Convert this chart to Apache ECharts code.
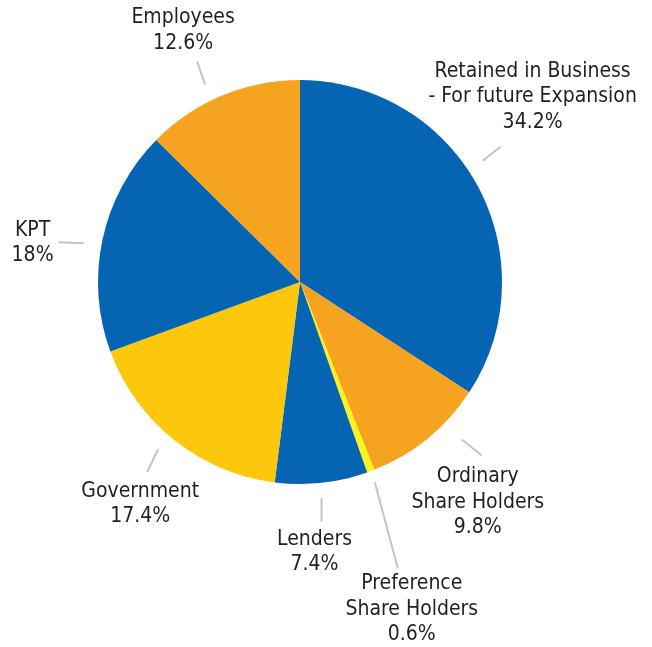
<!DOCTYPE html>
<html>
<head>
<meta charset="utf-8">
<style>
  html, body { margin: 0; padding: 0; background: #fff; }
  #chart { width: 652px; height: 647px; }
</style>
<script src="https://cdn.jsdelivr.net/npm/echarts@6/dist/echarts.min.js"></script>
</head>
<body>
<div id="chart"></div>
<script>
var names = [
  'Retained in Business\n- For future Expansion',
  'Ordinary\nShare Holders',
  'Preference\nShare Holders',
  'Lenders',
  'Government',
  'KPT',
  'Employees'
]
var shares = [34.2, 9.8, 0.6, 7.4, 17.4, 18, 12.6]
var colors = ['#0565b2', '#f6a31f', '#fff21b', '#0565b2', '#fdc70c', '#0565b2', '#f6a31f']

// leader line start/end and label centre, as offsets from the slice's edge point
var labelOffsets = [
  { from: [5, -25], to: [23, -39], text: [55, -89] },
  { from: [34, 1], to: [54, 17], text: [50, 64] },
  { from: [4, 11], to: [27, 97], text: [41, 138] },
  { from: [0, 15], to: [0, 39], text: [-7, 69] },
  { from: [-16, 9], to: [-27, 32], text: [-34, 64] },
  { from: [-19, 4], to: [-44, 3], text: [-70, 4] },
  { from: [-17, -11], to: [-25, -34], text: [-39, -65] }
]

var chart = echarts.init(document.getElementById('chart'))

var data = []
for (var i = 0; i < names.length; i++) {
  data.push({ name: names[i], value: shares[i], itemStyle: { color: colors[i] } })
}

chart.setOption({
  animation: false,
  series: [
    {
      type: 'pie',
      center: [300, 282],
      radius: 202,
      startAngle: 90,
      clockwise: true,
      avoidLabelOverlap: false,
      itemStyle: { borderWidth: 0 },
      label: {
        show: true,
        position: 'outside',
        formatter: '{b}\n{d}%',
        fontFamily: 'DejaVu Sans Condensed',
        fontSize: 21,
        lineHeight: 25.5,
        color: '#231f20',
        align: 'center'
      },
      labelLine: {
        show: true,
        length: 20,
        length2: 0,
        lineStyle: { color: '#c4c4c4', width: 2 }
      },
      labelLayout: function (params) {
        var p0 = params.labelLinePoints[0]
        var o = labelOffsets[params.dataIndex]
        return {
          x: p0[0] + o.text[0],
          y: p0[1] + o.text[1],
          align: 'center',
          verticalAlign: 'middle',
          labelLinePoints: [
            [p0[0] + o.from[0], p0[1] + o.from[1]],
            [p0[0] + o.to[0], p0[1] + o.to[1]]
          ]
        }
      },
      data: data
    }
  ]
})
</script>
</body>
</html>
